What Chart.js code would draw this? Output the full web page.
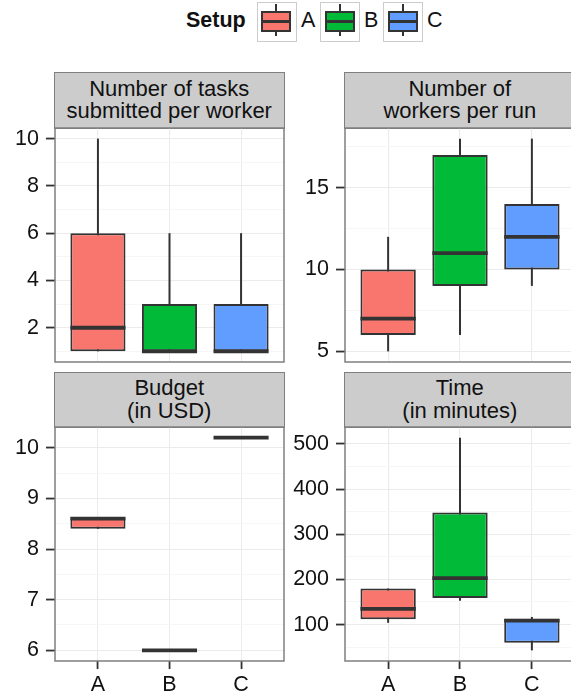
<!DOCTYPE html>
<html><head><meta charset="utf-8">
<script src="https://cdn.jsdelivr.net/npm/chart.js@4"></script>
<style>
html,body{margin:0;padding:0;background:#fff;overflow:hidden}
#wrap{position:relative;width:571px;height:696px;overflow:hidden;background:#fff;font-family:"Liberation Sans",Arial,Helvetica,sans-serif;color:#111}
canvas{position:absolute}
.strip{position:absolute;box-sizing:border-box;border:1.5px solid #7f7f7f;background:#ccc;display:flex;align-items:center;justify-content:center;text-align:center;font-size:22px;line-height:22.6px;color:#111;white-space:nowrap}
.key{position:absolute;top:1.7px;width:40px;height:40px;box-sizing:border-box;border:1.5px solid #ccc;background:#fff}
.key .wh{position:absolute;left:17.5px;top:1.8px;width:2px;height:32px;background:#333}
.key .bx{position:absolute;left:3.5px;top:8.5px;width:30px;height:20.6px;box-sizing:border-box;border:2px solid #333}
.key .md{position:absolute;left:0;top:6.8px;width:100%;height:3px;background:#333}
.lt{position:absolute;top:10px;font-size:21.5px;line-height:21.5px;color:#111}
</style></head>
<body>
<div id="wrap">
  <div class="lt" style="left:186px;font-weight:bold;">Setup</div>
  <div id="legend"></div>
  <div class="strip" style="left:54px;top:72px;width:230.5px;height:56.5px;">Number of tasks<br>submitted per worker</div>
  <div class="strip" style="left:344.3px;top:72px;width:231px;height:56.5px;">Number of<br>workers per run</div>
  <div class="strip" style="left:54px;top:371.5px;width:230.5px;height:56px;">Budget<br>(in USD)</div>
  <div class="strip" style="left:344.3px;top:371.5px;width:231px;height:56px;">Time<br>(in minutes)</div>
  <canvas id="c1" width="286" height="240" style="left:0;top:125px;width:286px;height:240px"></canvas>
  <canvas id="c2" width="290" height="240" style="left:290px;top:125px;width:290px;height:240px"></canvas>
  <canvas id="c3" width="286" height="272" style="left:0;top:424px;width:286px;height:272px"></canvas>
  <canvas id="c4" width="290" height="272" style="left:290px;top:424px;width:290px;height:272px"></canvas>
</div>
<script>
// ---------- data ----------
const setups = ['A', 'B', 'C'];
const setupColors = ['#F8766D', '#00BA38', '#619CFF'];

const tasksLow  = [1, 1, 1];
const tasksQ1   = [1, 1, 1];
const tasksMed  = [2, 1, 1];
const tasksQ3   = [6, 3, 3];
const tasksHigh = [10, 6, 6];
const tasksTicks = [2, 4, 6, 8, 10];
const tasksMinor = [1, 3, 5, 7, 9];

const workersLow  = [5, 6, 9];
const workersQ1   = [6, 9, 10];
const workersMed  = [7, 11, 12];
const workersQ3   = [10, 17, 14];
const workersHigh = [12, 18, 18];
const workersTicks = [5, 10, 15];
const workersMinor = [7.5, 12.5, 17.5];

const budgetLow  = [8.4, 6, 10.2];
const budgetQ1   = [8.4, 6, 10.2];
const budgetMed  = [8.6, 6, 10.2];
const budgetQ3   = [8.63, 6, 10.2];
const budgetHigh = [8.63, 6, 10.2];
const budgetTicks = [6, 7, 8, 9, 10];
const budgetMinor = [6.5, 7.5, 8.5, 9.5];

const timeLow  = [104, 153, 43];
const timeQ1   = [112, 159, 60];
const timeMed  = [135, 203, 109];
const timeQ3   = [180, 348, 113];
const timeHigh = [180, 514, 117];
const timeTicks = [100, 200, 300, 400, 500];
const timeMinor = [50, 150, 250, 350, 450];

// ---------- legend ----------
const legendPos = [{k:256.7, t:301}, {k:320, t:364}, {k:383.3, t:427}];
const lg = document.getElementById('legend');
setups.forEach((s, i) => {
  const key = document.createElement('div');
  key.className = 'key';
  key.style.left = legendPos[i].k + 'px';
  key.innerHTML = '<div class="wh"></div><div class="bx" style="background:' + setupColors[i] + '"><div class="md"></div></div>';
  lg.appendChild(key);
  const t = document.createElement('div');
  t.className = 'lt';
  t.style.left = legendPos[i].t + 'px';
  t.textContent = s;
  lg.appendChild(t);
});

// ---------- charts ----------
const FONT = '"Liberation Sans", Arial, Helvetica, sans-serif';
const framePlugin = {
  id: 'frame',
  afterDraw(chart) {
    const {ctx, chartArea: a} = chart;
    ctx.save();
    ctx.strokeStyle = '#7f7f7f';
    ctx.lineWidth = 1.5;
    ctx.strokeRect(a.left, a.top, a.right - a.left, a.bottom - a.top);
    ctx.restore();
  }
};

function boxChart(id, s, pad, showX) {
  const xs = [1, 2, 3];
  const whisk = s.low.map((v, i) => ({x: xs[i], y: [v, s.high[i]]}));
  const box = s.q1.map((v, i) => ({x: xs[i], y: [v, s.q3[i]]}));
  const med = s.med.map((v, i) => ({x: xs[i], y: v}));
  const lo = Math.min(...s.low), hi = Math.max(...s.high);
  const ex = (hi - lo) * 0.05;
  const majorY = new Set(s.major);
  const allY = s.major.concat(s.minor).sort((a, b) => a - b);

  new Chart(document.getElementById(id), {
    type: 'bar',
    data: {
      datasets: [
        {type: 'bar', data: whisk, backgroundColor: '#333333', maxBarThickness: 2,
         grouped: false, order: 3, categoryPercentage: 1, barPercentage: 0.75},
        {type: 'bar', data: box, backgroundColor: setupColors, borderColor: '#333333',
         borderWidth: 2, borderSkipped: false, grouped: false, order: 2,
         categoryPercentage: 1, barPercentage: 0.77},
        {type: 'line', data: med, showLine: false, pointStyle: 'line', order: 1,
         pointRadius: (ctx) => {
           const sx = ctx.chart.scales.x;
           return sx ? (sx.getPixelForValue(1.385) - sx.getPixelForValue(1)) : 27;
         },
         pointBorderWidth: 3.8, pointBorderColor: '#333333', pointBackgroundColor: '#333333'}
      ]
    },
    options: {
      responsive: false,
      maintainAspectRatio: false,
      animation: false,
      events: [],
      layout: {padding: pad},
      plugins: {legend: {display: false}, tooltip: {enabled: false}},
      scales: {
        x: {
          type: 'linear', min: 0.4, max: 3.6, offset: false, bounds: 'data',
          afterBuildTicks: (sc) => { sc.ticks = xs.map(v => ({value: v})); },
          afterFit: (sc) => { sc.height = showX ? 35 : 0; sc.paddingLeft = 0; sc.paddingRight = 0; },
          border: {display: false},
          grid: {offset: false, color: '#EBEBEB', lineWidth: 1.1, drawTicks: showX,
                 tickLength: 8, tickWidth: 1.8, tickColor: '#333333'},
          ticks: {display: showX, autoSkip: false, maxRotation: 0, padding: 3,
                  color: '#111', font: {family: FONT, size: 21.5},
                  callback: (v) => setups[v - 1]}
        },
        y: {
          type: 'linear', min: lo - ex, max: hi + ex, bounds: 'data', beginAtZero: false,
          afterBuildTicks: (sc) => { sc.ticks = allY.map(v => ({value: v})); },
          afterFit: (sc) => { sc.width = 55; sc.paddingTop = 0; sc.paddingBottom = 0; },
          border: {display: false},
          grid: {
            color: (c) => majorY.has(c.tick.value) ? '#EBEBEB' : '#F6F6F6',
            tickColor: (c) => majorY.has(c.tick.value) ? '#333333' : 'rgba(0,0,0,0)',
            lineWidth: 1.1, tickLength: 9, tickWidth: 1.8
          },
          ticks: {autoSkip: false, padding: 7, color: '#111', font: {family: FONT, size: 21.5},
                  callback: (v) => majorY.has(v) ? String(v) : ''}
        }
      }
    },
    plugins: [framePlugin]
  });
}

boxChart('c1', {low: tasksLow, q1: tasksQ1, med: tasksMed, q3: tasksQ3, high: tasksHigh,
  major: tasksTicks, minor: tasksMinor}, {top: 3, right: 2, bottom: 3, left: 0}, false);
boxChart('c2', {low: workersLow, q1: workersQ1, med: workersMed, q3: workersQ3, high: workersHigh,
  major: workersTicks, minor: workersMinor}, {top: 3, right: 5, bottom: 3, left: 0}, false);
boxChart('c3', {low: budgetLow, q1: budgetQ1, med: budgetMed, q3: budgetQ3, high: budgetHigh,
  major: budgetTicks, minor: budgetMinor}, {top: 3, right: 2, bottom: 0, left: 0}, true);
boxChart('c4', {low: timeLow, q1: timeQ1, med: timeMed, q3: timeQ3, high: timeHigh,
  major: timeTicks, minor: timeMinor}, {top: 3, right: 5, bottom: 0, left: 0}, true);
</script>
</body></html>
